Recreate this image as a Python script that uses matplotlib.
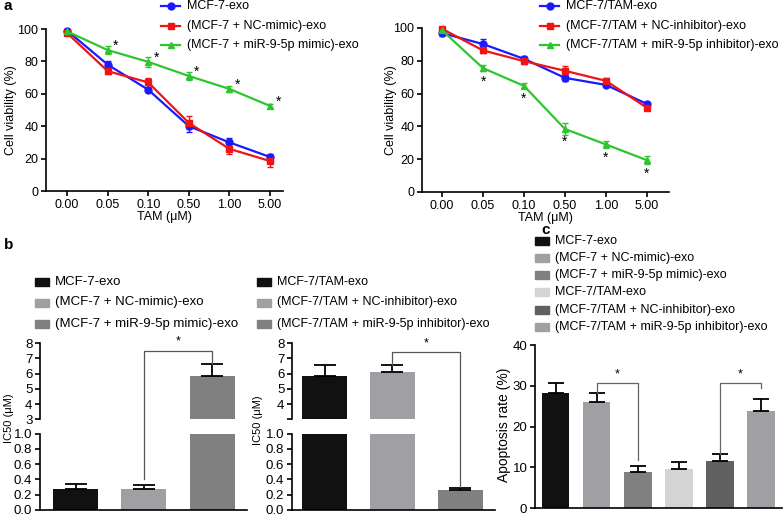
import numpy as np
import matplotlib
matplotlib.use('Agg')
import matplotlib.pyplot as plt
from matplotlib.lines import Line2D
from matplotlib.patches import Rectangle

plt.rcParams['font.family'] = ['Liberation Sans', 'DejaVu Sans']
plt.rcParams['axes.linewidth'] = 1.2
plt.rcParams['xtick.major.width'] = 1.2
plt.rcParams['ytick.major.width'] = 1.2
plt.rcParams['xtick.major.size'] = 3.5
plt.rcParams['ytick.major.size'] = 3.5

# ---- data ----
conc = ['0.00', '0.05', '0.10', '0.50', '1.00', '5.00']

a1_names = ['MCF-7-exo', '(MCF-7 + NC-mimic)-exo', '(MCF-7 + miR-9-5p mimic)-exo']
a1_blue = [99, 78, 62.5, 40, 30, 21]
a1_blue_err = [1, 2, 1.5, 3.5, 3, 2]
a1_red = [97.5, 74, 67, 42, 26, 18.5]
a1_red_err = [1, 1.5, 2.5, 4, 3, 3.5]
a1_green = [98.5, 87, 79.7, 71, 63, 52.5]
a1_green_err = [0.5, 2.5, 3, 2.5, 2, 1]

a2_names = ['MCF-7/TAM-exo', '(MCF-7/TAM + NC-inhibitor)-exo', '(MCF-7/TAM + miR-9-5p inhibitor)-exo']
a2_blue = [96.9, 90.2, 81.2, 69.6, 65.3, 53.7]
a2_blue_err = [2, 3, 1.5, 2, 1.5, 1]
a2_red = [99.5, 86.3, 79.8, 73.9, 67.8, 51.4]
a2_red_err = [1, 1.5, 1.5, 3, 1.5, 1]
a2_green = [98.6, 75.5, 64.7, 38.4, 29, 19.4]
a2_green_err = [0.5, 2, 1.5, 3.5, 2, 2.5]

b1_vals = [0.28, 0.27, 5.85]
b1_err = [0.06, 0.06, 0.75]
b2_vals = [5.85, 6.13, 0.26]
b2_err = [0.72, 0.44, 0.03]

c_names = a1_names + a2_names
c_vals = [28.2, 26.1, 9.0, 9.7, 11.6, 23.9]
c_err = [2.4, 2.1, 1.3, 1.7, 1.7, 2.8]

BLUE, RED, GREEN = '#1a1aff', '#f01414', '#2ec52e'
b1_cols = ['#111111', '#a0a0a4', '#808080']
b2_cols = ['#111111', '#a0a0a4', '#808080']
c_cols = ['#111111', '#a0a0a4', '#808080', '#d4d4d4', '#606060', '#a0a0a4']

W, H = 784, 516
fig = plt.figure(figsize=(W / 100, H / 100), dpi=100)


def add_ax(left, top, right, bottom):
    return fig.add_axes([left / W, 1 - bottom / H, (right - left) / W, (bottom - top) / H])


def fx(px):
    return px / W


def fy(py):
    return 1 - py / H


def to_fig(ax, x, y):
    return fig.transFigure.inverted().transform(ax.transData.transform((x, y)))


def style(ax):
    ax.spines['top'].set_visible(False)
    ax.spines['right'].set_visible(False)
    ax.tick_params(labelsize=9, pad=2)


# ---- panel a ----
def line_panel(box, xlim, series, ylabel_x):
    ax = add_ax(*box)
    x = np.arange(len(conc))
    for vals, errs, col, mk in series:
        ax.errorbar(x, vals, yerr=errs, color=col, marker=mk, ms=5, lw=1.6,
                    capsize=2.5, elinewidth=1, clip_on=False, zorder=3)
    ax.set_xlim(*xlim)
    ax.set_ylim(0, 100)
    ax.set_yticks([0, 20, 40, 60, 80, 100])
    ax.set_xticks(x)
    ax.set_xticklabels(conc)
    style(ax)
    ax.set_xlabel('TAM (μM)', fontsize=9, labelpad=0)
    fig.text(fx(ylabel_x), 0.5 * (fy(box[1]) + fy(box[3])), 'Cell viability (%)',
             rotation=90, ha='center', va='center', fontsize=9)
    return ax


ax_a1 = line_panel((46, 29, 283, 191), (-0.52, 5.32),
                   [(a1_blue, a1_blue_err, BLUE, 'o'),
                    (a1_red, a1_red_err, RED, 's'),
                    (a1_green, a1_green_err, GREEN, '^')], 11)
for i in range(1, 6):
    ax_a1.text(i + 0.2, a1_green[i] + 2.5, '*', fontsize=10, ha='center', va='center')

ax_a2 = line_panel((422, 28, 669, 192), (-0.49, 5.54),
                   [(a2_blue, a2_blue_err, BLUE, 'o'),
                    (a2_red, a2_red_err, RED, 's'),
                    (a2_green, a2_green_err, GREEN, '^')], 391)
for i in range(1, 6):
    ax_a2.text(i, a2_green[i] - 8, '*', fontsize=10, ha='center', va='center')


def line_legend(x0, ys, names):
    for y, name, col, mk in zip(ys, names, [BLUE, RED, GREEN], ['o', 's', '^']):
        fig.add_artist(Line2D([fx(x0), fx(x0 + 19)], [fy(y), fy(y)], color=col, lw=1.6))
        fig.add_artist(Line2D([fx(x0 + 9.5)], [fy(y)], color=col, marker=mk, ms=5))
        fig.text(fx(x0 + 26), fy(y), name, fontsize=9, va='center')


line_legend(161, [6, 25.5, 45], a1_names)
line_legend(540, [6, 25.5, 45], a2_names)

fig.text(fx(4), fy(6), 'a', fontsize=11, fontweight='bold', va='center')
fig.text(fx(4), fy(245), 'b', fontsize=11, fontweight='bold', va='center')
fig.text(fx(541), fy(230), 'c', fontsize=11, fontweight='bold', va='center')


# ---- panel b (broken axes) ----
def broken_panel(x0, x1, xlim, vals, errs, cols, show3):
    up = add_ax(x0, 343, x1, 419.3)
    lo = add_ax(x0, 433.5, x1, 510)
    x = np.arange(len(vals))
    for ax in (up, lo):
        ax.bar(x, vals, width=0.66, color=cols)
        ax.errorbar(x, vals, yerr=[np.zeros(len(errs)), errs], fmt='none', ecolor='black',
                    elinewidth=1.3, capsize=8, capthick=1.3)
        ax.set_xlim(*xlim)
        style(ax)
        ax.set_xticks([])
        ax.tick_params(labelsize=9.5)
    up.set_ylim(3, 8)
    lo.set_ylim(0, 1.0)
    up.spines['bottom'].set_visible(False)
    up.set_yticks([3, 4, 5, 6, 7, 8])
    up.set_yticklabels(['3' if show3 else '', '4', '5', '6', '7', '8'])
    lo.set_yticks([0, 0.2, 0.4, 0.6, 0.8, 1.0])
    lo.set_yticklabels(['0.0', '0.2', '0.4', '0.6', '0.8', '1.0'])
    return up, lo


def box_legend(x0, ys, names, cols, size):
    for y, name, col in zip(ys, names, cols):
        fig.add_artist(Rectangle((fx(x0), fy(y + 4)), 14 / W, 8 / H, color=col,
                                 transform=fig.transFigure))
        fig.text(fx(x0 + 20), fy(y), name, fontsize=size, va='center')


def bracket(ax_l, xl, yl, ax_r, xr, yr, ax_top, ytop, color='#555555'):
    pl = to_fig(ax_l, xl, yl)
    pr = to_fig(ax_r, xr, yr)
    pt = to_fig(ax_top, xl, ytop)
    pt2 = to_fig(ax_top, xr, ytop)
    fig.add_artist(Line2D([pl[0], pt[0], pt2[0], pr[0]], [pl[1], pt[1], pt2[1], pr[1]],
                          color=color, lw=0.9))
    fig.text((pt[0] + pt2[0]) / 2, pt[1] + 9 / H, '*', fontsize=9, ha='center', va='center')


up1, lo1 = broken_panel(40, 247, (-0.52, 2.51), b1_vals, b1_err, b1_cols, True)
up2, lo2 = broken_panel(292, 495, (-0.48, 2.51), b2_vals, b2_err, b2_cols, False)

fig.text(fx(9), fy(418), 'IC50 (μM)', rotation=90, ha='center', va='center', fontsize=8)
fig.text(fx(258), fy(420), 'IC50 (μM)', rotation=90, ha='center', va='center', fontsize=8)

box_legend(35, [282, 302.5, 323.5], a1_names, b1_cols, 9.5)
box_legend(257, [282, 302.5, 323.5], a2_names, b2_cols, 9)

bracket(lo1, 1, 0.41, up1, 2, b1_vals[2] + b1_err[2], up1, 7.5)
bracket(up2, 1, b2_vals[1] + b2_err[1], lo2, 2, 0.3, up2, 7.41)

# ---- panel c ----
ax_c = add_ax(535, 345, 782, 508.3)
xc = np.arange(len(c_vals))
ax_c.bar(xc, c_vals, width=0.67, color=c_cols)
ax_c.errorbar(xc, c_vals, yerr=[np.zeros(len(c_err)), c_err], fmt='none', ecolor='black',
              elinewidth=1.3, capsize=6, capthick=1.3)
ax_c.set_xlim(-0.5, 5.51)
ax_c.set_ylim(0, 40)
ax_c.set_yticks([0, 10, 20, 30, 40])
ax_c.set_xticks([])
style(ax_c)
ax_c.tick_params(labelsize=9.5)
fig.text(fx(504), fy(425), 'Apoptosis rate (%)', rotation=90, ha='center', va='center', fontsize=10)
box_legend(535, [241, 258, 275.2, 292.4, 309.6, 326.8], c_names, c_cols, 9)

bracket(ax_c, 1, c_vals[1] + c_err[1], ax_c, 2, 11.8, ax_c, 30.6, color='#666666')
bracket(ax_c, 4, c_vals[4] + c_err[4], ax_c, 5, 29.4, ax_c, 30.6, color='#666666')

fig.savefig('out.png', dpi=100)
